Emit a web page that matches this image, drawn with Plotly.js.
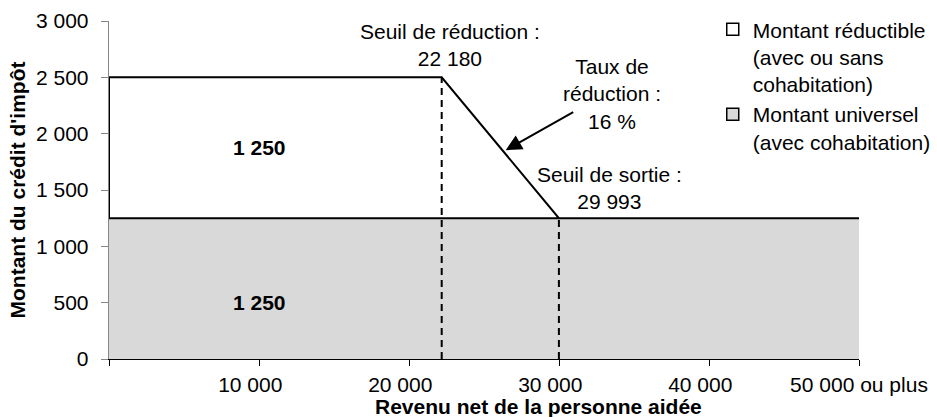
<!DOCTYPE html>
<html>
<head>
<meta charset="utf-8">
<script src="https://cdn.plot.ly/plotly-3.0.1.min.js"></script>
<style>html,body{margin:0;padding:0;background:#fff;}#chart{width:937px;height:417px;}</style>
</head>
<body>
<div id="chart"></div>
<script>
// Data
const incomePoints = [0, 22180, 29993, 50000];
const universalAmount = [1250, 1250, 1250, 1250];
const totalAmount = [2500, 2500, 1250, 1250];
const reductionThreshold = 22180;
const exitThreshold = 29993;
const reductionRate = 16;
const reducibleLabelValue = 1250;
const universalLabelValue = 1250;
const xTickVals = [0, 10000, 20000, 30000, 40000, 50000];
const xTickText = ['', '10 000', '20 000', '30 000', '40 000', '50 000 ou plus'];
const seriesNames = ['Montant réductible<br>(avec ou sans<br>cohabitation)', 'Montant universel<br>(avec cohabitation)'];

const fmt = v => String(v).replace(/\B(?=(\d{3})+(?!\d))/g, ' ');
const FONT = 'Arial, "Liberation Sans", sans-serif';
const FS = 21;
const PAD = '\u00a0\u00a0\u00a0';
const xTickShown = xTickText.map((t, i) => (t && i < xTickText.length - 1) ? t + PAD : t);

// Universal area (gray)
const universalTrace = {
  x: incomePoints, y: universalAmount, type: 'scatter', mode: 'lines',
  fill: 'tozeroy', fillcolor: '#d9d9d9', line: {color: '#d9d9d9', width: 0},
  showlegend: false, hoverinfo: 'skip'
};
// Reducible area polygon (white with black outline)
const polyX = incomePoints.concat(incomePoints.slice().reverse(), [incomePoints[0]]);
const polyY = totalAmount.concat(universalAmount.slice().reverse(), [totalAmount[0]]);
const reducibleTrace = {
  x: polyX, y: polyY, type: 'scatter', mode: 'lines', fill: 'toself',
  fillcolor: '#ffffff', line: {color: '#000', width: 2},
  showlegend: false, hoverinfo: 'skip'
};
// Dashed threshold lines
const idxR = incomePoints.indexOf(reductionThreshold);
const idxE = incomePoints.indexOf(exitThreshold);
const dash1 = {x: [reductionThreshold, reductionThreshold], y: [0, totalAmount[idxR]], type: 'scatter', mode: 'lines',
  line: {color: '#000', width: 2, dash: '7px,5px'}, showlegend: false, hoverinfo: 'skip'};
const dash2 = {x: [exitThreshold, exitThreshold], y: [0, totalAmount[idxE]], type: 'scatter', mode: 'lines',
  line: {color: '#000', width: 2, dash: '7px,5px'}, showlegend: false, hoverinfo: 'skip'};
// Legend-only entries
const leg1 = {x: [null], y: [null], type: 'bar', name: seriesNames[0], marker: {color: '#ffffff', line: {color: '#000', width: 1.5}}, hoverinfo: 'skip'};
const leg2 = {x: [null], y: [null], type: 'bar', name: seriesNames[1], marker: {color: '#d9d9d9', line: {color: '#000', width: 1.5}}, hoverinfo: 'skip'};

const txt = {family: FONT, size: FS, color: '#000'};
const layout = {
  width: 937, height: 417,
  margin: {l: 109, r: 78, t: 21, b: 58, pad: 0, autoexpand: false},
  paper_bgcolor: '#fff', plot_bgcolor: '#fff',
  font: txt,
  separators: ', ',
  showlegend: true,
  legend: {x: 0.805, xanchor: 'left', y: 1.035, yanchor: 'top', font: txt, bgcolor: 'rgba(0,0,0,0)',
           valign: 'top', itemwidth: 30, tracegroupgap: 10, traceorder: 'normal'},
  xaxis: {
    range: [0, 50000], tickvals: xTickVals, ticktext: xTickShown, ticks: 'outside', ticklen: 6,
    tickcolor: '#000', showline: true, linecolor: '#000', linewidth: 1.3, showgrid: false, zeroline: false,
    tickfont: txt, ticklabelstandoff: 0, automargin: false, fixedrange: true
  },
  yaxis: {
    range: [0, 3000], dtick: 500, tick0: 0, tickformat: ',d', ticks: 'outside', ticklen: 7,
    tickcolor: '#868686', showline: true, linecolor: '#868686', linewidth: 1.3, showgrid: false, zeroline: false,
    tickfont: txt, ticklabelstandoff: 8, automargin: false,
    title: {text: "<b>Montant du crédit d'impôt</b>", font: txt, standoff: 4}, fixedrange: true
  },
  annotations: [
    {xref: 'paper', yref: 'paper', x: 0.573, y: -0.14, yanchor: 'middle', xanchor: 'center', showarrow: false,
     text: '<b>Revenu net de la personne aidée</b>', font: txt},
    {x: 10000, y: 1875, text: '<b>' + fmt(reducibleLabelValue) + '</b>', showarrow: false, font: txt},
    {x: 10000, y: 500, text: '<b>' + fmt(universalLabelValue) + '</b>', showarrow: false, font: txt},
    {x: 22713, y: 2784, text: 'Seuil de réduction :<br>' + fmt(reductionThreshold), showarrow: false, font: txt},
    {x: 33513, y: 2350, text: 'Taux de<br>réduction :<br>' + reductionRate + ' %', showarrow: false, font: txt},
    {x: 33380, y: 1516, text: 'Seuil de sortie :<br>' + fmt(exitThreshold), showarrow: false, font: txt},
    {x: 26447, y: 1853, text: '', showarrow: true, ax: 69, ay: -39, arrowhead: 2, arrowsize: 1.6, arrowwidth: 2, arrowcolor: '#000', standoff: 0}
  ]
};
Plotly.newPlot('chart', [universalTrace, reducibleTrace, dash1, dash2, leg1, leg2], layout, {staticPlot: true, displayModeBar: false});
</script>
</body>
</html>
